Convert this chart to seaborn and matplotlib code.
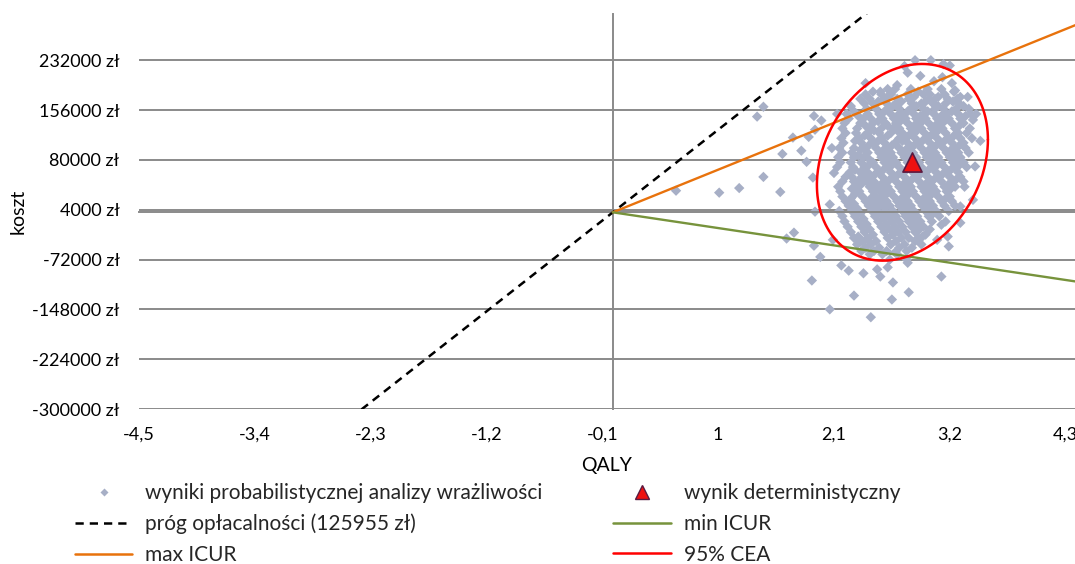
import numpy as np
import pandas as pd
import matplotlib
matplotlib.use("Agg")
import matplotlib.pyplot as plt
import seaborn as sns
from matplotlib.lines import Line2D

# ---------------- data ----------------
x_ticks = [-4.5, -3.4, -2.3, -1.2, -0.1, 1.0, 2.1, 3.2, 4.3]
y_ticks = [-300000, -224000, -148000, -72000, 4000, 80000, 156000, 232000]

prog_oplacalnosci = 125955          # zł / QALY (threshold line slope)
max_icur = 65000                    # zł / QALY
min_icur = -24000                   # zł / QALY
prog_qaly = [-2.6, 2.6]             # extent of threshold line
icur_qaly = [0.0, 4.6]              # extent of ICUR lines

wynik_det_qaly = [2.84]
wynik_det_koszt = [76000]

cea_srodek_qaly = 2.75
cea_srodek_koszt = 76300
cea_polos_qaly = 0.812
cea_polos_koszt = 150000
cea_korelacja = 0.23

# scattered PSA results (QALY, cost in thousand zł)
psa_rozproszone = [
    (0.60, 33), (1.01, 30), (1.20, 37), (1.43, 54), (1.59, 31), (1.37, 146), (1.43, 161),
    (1.61, 89), (1.71, 114), (1.79, 94), (1.84, 77), (1.90, 53), (1.91, 147), (1.98, 140),
    (1.86, 115), (1.65, -40), (1.72, -31), (1.91, -51), (1.97, -68), (1.89, -104),
    (2.06, -148), (2.17, -81), (2.24, -89), (2.29, -127), (2.38, -93), (2.45, -160),
    (2.65, -133), (2.66, -107), (2.54, -98), (2.81, -122), (3.12, -98), (1.92, 1),
    (2.09, -42), (1.92, 126), (2.87, 232), (3.02, 232), (2.77, 223), (3.14, 226),
    (3.20, 224), (2.80, 213), (2.92, 208), (3.13, 206), (2.70, 194), (2.54, 184),
    (2.68, 188), (3.22, 197), (3.25, 186), (3.37, 176), (3.42, 141), (3.49, 109),
    (3.42, 19), (3.34, 39), (3.30, 9), (3.19, -52), (3.12, -19), (3.30, -16),
    (2.33, -37), (2.35, -45), (2.42, -42), (2.51, -87), (2.61, -84), (2.63, -72),
    (2.68, -61), (2.79, -72), (2.80, -77), (2.89, -42), (2.94, -37), (3.01, -26),
    (3.08, -42), (3.18, -37), (2.06, 12), (2.10, 60), (2.08, 98), (2.13, 150),
    (3.44, 70), (3.45, 150), (2.40, 197), (3.05, 200),
]

# dense core of PSA results: (cost in thousand zł, QALY values)
psa_rdzen = [
    (188, [2.61, 2.83, 2.99, 3.12]),
    (184, [2.47, 2.90, 3.24]),
    (180, [2.40, 2.55, 2.64, 2.80, 2.95, 3.01, 3.15]),
    (176, [2.61, 2.86, 3.09, 3.30]),
    (173, [2.35, 2.44, 2.58, 2.70, 2.81, 3.00, 3.06, 3.18, 3.27]),
    (169, [2.52, 2.74, 2.97, 3.23]),
    (166, [2.39, 2.47, 2.60, 2.69, 2.84, 2.93, 3.04, 3.16, 3.29]),
    (162, [2.26, 2.66, 2.88, 3.09, 3.33]),
    (158, [2.41, 2.50, 2.62, 2.72, 2.83, 2.95, 3.06, 3.14, 3.26, 3.38]),
    (154, [2.29, 2.58, 2.80, 2.99, 3.22]),
    (150, [2.22, 2.42, 2.53, 2.64, 2.75, 2.86, 2.96, 3.05, 3.17, 3.28, 3.40]),
    (147, [2.33, 2.70, 2.92, 3.12, 3.35]),
    (143, [2.24, 2.38, 2.45, 2.56, 2.67, 2.78, 2.88, 2.97, 3.08, 3.19, 3.30]),
    (139, [2.52, 2.73, 2.94, 3.15]),
    (136, [2.20, 2.35, 2.47, 2.59, 2.69, 2.80, 2.90, 3.00, 3.11, 3.22, 3.33]),
    (132, [2.40, 2.61, 2.86, 3.06, 3.29]),
    (128, [2.18, 2.32, 2.44, 2.55, 2.66, 2.72, 2.83, 2.93, 3.03, 3.13, 3.25, 3.39]),
    (125, [2.48, 2.70, 2.89, 3.09]),
    (121, [2.21, 2.31, 2.42, 2.53, 2.64, 2.75, 2.85, 2.96, 3.05, 3.16, 3.28, 3.36]),
    (117, [2.39, 2.61, 2.81, 3.02, 3.24]),
    (113, [2.17, 2.34, 2.45, 2.56, 2.72, 2.78, 2.87, 2.98, 3.08, 3.19, 3.30, 3.41]),
    (109, [2.30, 2.52, 2.75, 2.94, 3.15]),
    (106, [2.19, 2.36, 2.47, 2.58, 2.68, 2.80, 2.90, 3.01, 3.11, 3.22, 3.33]),
    (102, [2.43, 2.65, 2.86, 3.07, 3.29]),
    (98, [2.15, 2.29, 2.39, 2.50, 2.61, 2.72, 2.82, 2.93, 3.03, 3.14, 3.25, 3.35]),
    (95, [2.35, 2.57, 2.78, 3.00, 3.21]),
    (91, [2.18, 2.27, 2.42, 2.53, 2.64, 2.74, 2.85, 2.96, 3.06, 3.17, 3.28, 3.38]),
    (87, [2.33, 2.59, 2.81, 3.02, 3.24]),
    (84, [2.14, 2.29, 2.38, 2.55, 2.66, 2.77, 2.88, 2.98, 3.09, 3.20, 3.30]),
    (80, [2.44, 2.62, 2.84, 3.05, 3.27]),
    (76, [2.16, 2.26, 2.36, 2.47, 2.58, 2.69, 2.80, 2.91, 3.01, 3.12, 3.23, 3.33]),
    (72, [2.43, 2.65, 2.87, 3.08, 3.29]),
    (69, [2.13, 2.28, 2.39, 2.50, 2.61, 2.72, 2.83, 2.93, 3.04, 3.15, 3.25, 3.36]),
    (65, [2.30, 2.57, 2.79, 3.00, 3.21]),
    (61, [2.25, 2.35, 2.42, 2.53, 2.64, 2.75, 2.85, 2.96, 3.07, 3.17, 3.28]),
    (58, [2.49, 2.71, 2.92, 3.13]),
    (54, [2.21, 2.27, 2.38, 2.45, 2.56, 2.67, 2.77, 2.88, 2.99, 3.09, 3.20, 3.30]),
    (50, [2.34, 2.63, 2.84, 3.05, 3.26]),
    (47, [2.18, 2.29, 2.41, 2.48, 2.59, 2.69, 2.80, 2.91, 3.01, 3.12, 3.23, 3.33]),
    (43, [2.36, 2.55, 2.76, 2.97, 3.19]),
    (39, [2.14, 2.31, 2.44, 2.51, 2.61, 2.72, 2.83, 2.93, 3.04, 3.15, 3.25]),
    (36, [2.27, 2.57, 2.79, 3.00, 3.21]),
    (32, [2.16, 2.34, 2.47, 2.54, 2.64, 2.75, 2.85, 2.96, 3.07, 3.17]),
    (28, [2.30, 2.60, 2.81, 3.03]),
    (24, [2.18, 2.37, 2.50, 2.57, 2.67, 2.77, 2.88, 2.99, 3.09, 3.20]),
    (21, [2.26, 2.45, 2.74, 2.95, 3.16]),
    (17, [2.21, 2.40, 2.53, 2.60, 2.70, 2.80, 2.91, 3.01, 3.12, 3.22]),
    (13, [2.29, 2.48, 2.76, 2.97]),
    (10, [2.24, 2.43, 2.56, 2.63, 2.72, 2.83, 2.94, 3.04, 3.15, 3.25]),
    (6, [2.32, 2.51, 2.79, 3.00]),
    (2, [2.15, 2.27, 2.46, 2.59, 2.66, 2.75, 2.86, 2.97, 3.07, 3.19]),
    (-2, [2.35, 2.54, 2.82, 3.04]),
    (-6, [2.18, 2.30, 2.49, 2.62, 2.69, 2.78, 2.89, 3.00, 3.10]),
    (-10, [2.38, 2.57, 2.85]),
    (-14, [2.20, 2.33, 2.52, 2.65, 2.72, 2.81, 2.92, 3.03, 3.16]),
    (-18, [2.41, 2.60, 2.88]),
    (-22, [2.23, 2.36, 2.55, 2.68, 2.75, 2.84, 2.95]),
    (-26, [2.44, 2.63, 2.91]),
    (-30, [2.26, 2.39, 2.58, 2.71, 2.78, 2.87]),
    (-34, [2.47, 2.66, 2.97]),
    (-39, [2.29, 2.42, 2.61, 2.74, 2.81, 2.90]),
    (-44, [2.37, 2.50, 2.69, 2.87]),
    (-49, [2.32, 2.45, 2.64, 2.77, 2.93]),
    (-54, [2.40, 2.53, 2.72, 2.84]),
    (-59, [2.36, 2.48, 2.60, 2.79]),
    (-64, [2.44, 2.56, 2.70]),
]

legend_labels = [
    "wyniki probabilistycznej analizy wrażliwości",
    "próg opłacalności (125955 zł)",
    "max ICUR",
    "wynik deterministyczny",
    "min ICUR",
    "95% CEA",
]

# ---------------- build table ----------------
rows = [(q, k * 1000) for q, k in psa_rozproszone]
for k, qs in psa_rdzen:
    rows += [(q, k * 1000) for q in qs]
df = pd.DataFrame(rows, columns=["qaly", "koszt"])

# ---------------- style ----------------
sns.set_theme(style="white")
plt.rcParams["font.family"] = ["Lato", "DejaVu Sans"]
FS_TICK = 13
FS = 15
GRAY = "#8a8a8a"
C_PSA = "#a7afc6"
C_ORANGE = "#e8720c"
C_GREEN = "#77933c"
C_RED = "#ff0000"

fig = plt.figure(figsize=(10.75, 5.64), dpi=100)
ax = fig.add_axes([139 / 1075, 1 - 409 / 564, (1075 - 139) / 1075, (409 - 14) / 564])

sns.scatterplot(data=df, x="qaly", y="koszt", marker="D", s=28, color=C_PSA,
                edgecolor="none", linewidth=0, ax=ax, zorder=2, legend=False)

ax.plot(prog_qaly, [prog_oplacalnosci * q for q in prog_qaly], color="black", lw=1.8,
        ls=(0, (3.3, 2.4)), zorder=3)
ax.plot(icur_qaly, [max_icur * q for q in icur_qaly], color=C_ORANGE, lw=1.7, zorder=3)
ax.plot(icur_qaly, [min_icur * q for q in icur_qaly], color=C_GREEN, lw=1.7, zorder=3)

t = np.linspace(0, 2 * np.pi, 300)
ell_x = cea_srodek_qaly + cea_polos_qaly * np.cos(t)
ell_y = cea_srodek_koszt + cea_polos_koszt * (cea_korelacja * np.cos(t)
                                              + np.sqrt(1 - cea_korelacja ** 2) * np.sin(t))
ax.plot(ell_x, ell_y, color=C_RED, lw=1.8, zorder=4)

sns.scatterplot(x=wynik_det_qaly, y=wynik_det_koszt, marker="^", s=190, color="#ee1111",
                edgecolor="#5a1a40", linewidth=1.2, ax=ax, zorder=5, legend=False)

# axes
ax.set_xlim(-4.5, 4.389)
ax.set_ylim(-300000, 302500)
for s in ["top", "right"]:
    ax.spines[s].set_visible(False)
ax.spines["left"].set_position(("data", 0))
ax.spines["bottom"].set_position(("data", 0))
for s in ["left", "bottom"]:
    ax.spines[s].set_color(GRAY)
    ax.spines[s].set_linewidth(1.4)
ax.set_xticks(x_ticks)
ax.set_yticks(y_ticks)
ax.tick_params(axis="x", direction="out", length=5, width=1.1, color=GRAY, labelbottom=False)
ax.tick_params(axis="y", direction="out", length=4, width=1.1, color=GRAY, labelleft=False)
ax.grid(axis="y", color=GRAY, lw=1.4)
ax.grid(axis="x", visible=False)
ax.set_axisbelow(True)
ax.set_xlabel("")
ax.set_ylabel("")

secx = ax.secondary_xaxis("bottom")
secx.set_xticks(x_ticks, labels=[f"{v:g}".replace(".", ",") for v in x_ticks])
secx.tick_params(length=0, pad=13, labelsize=FS_TICK, labelcolor="black")
secx.spines["bottom"].set_visible(False)
secx.set_xlabel("QALY", fontsize=FS_TICK + 1, labelpad=10, color="black")

secy = ax.secondary_yaxis("left")
secy.set_yticks(y_ticks, labels=[f"{v} zł" for v in y_ticks])
secy.tick_params(length=0, pad=14, labelsize=FS_TICK, labelcolor="black")
secy.spines["left"].set_visible(False)
secy.set_ylabel("koszt", fontsize=FS_TICK + 1, labelpad=4, color="black")

handles = [
    Line2D([], [], marker="D", ls="none", color=C_PSA, markersize=4, mec="none"),
    Line2D([], [], color="black", lw=1.8, ls=(0, (3.3, 2.4))),
    Line2D([], [], color=C_ORANGE, lw=1.8),
    Line2D([], [], marker="^", ls="none", mfc="#ee1111", mec="#5a1a40", markersize=10, mew=1),
    Line2D([], [], color=C_GREEN, lw=1.8),
    Line2D([], [], color=C_RED, lw=1.8),
]
fig.legend(handles=handles, labels=legend_labels, ncol=2, loc="upper left",
           bbox_to_anchor=(75 / 1075, 1 - 483 / 564), frameon=False, fontsize=FS,
           handlelength=2.75, handletextpad=0.62, columnspacing=3.4, labelspacing=0.52,
           borderpad=0, borderaxespad=0)

fig.savefig("out.png", dpi=100)
